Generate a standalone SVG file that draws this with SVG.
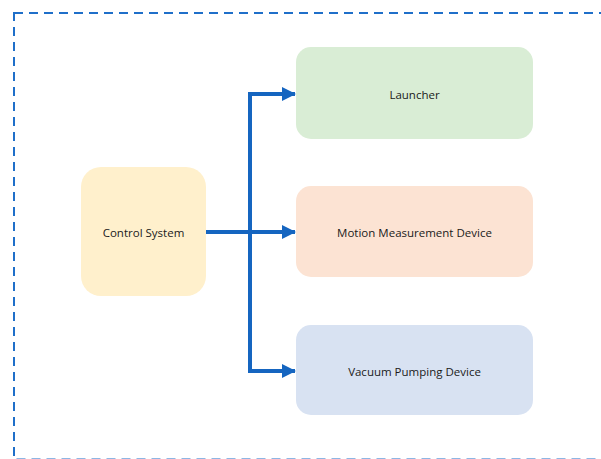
<svg xmlns="http://www.w3.org/2000/svg" width="601" height="459" viewBox="0 0 601 459">
  <style>
    .frame { fill: none; stroke: #1F6FC9; stroke-width: 2; stroke-dasharray: 9 6; }
    .box { stroke: none; }
    .label { font-family: "Open Sans", "Liberation Sans", sans-serif; font-size: 11.5px; fill: #1a1a1a; text-anchor: middle; dominant-baseline: central; }
    .wire { fill: none; stroke: #1565C0; stroke-width: 4; }
  </style>
  <defs>
    <marker id="arrow" markerWidth="14" markerHeight="14" refX="13" refY="7" orient="auto" markerUnits="userSpaceOnUse">
      <path d="M0,0 L14,7 L0,14 Z" fill="#1565C0"/>
    </marker>
  </defs>

  <!-- dashed system boundary, running off the right and bottom edges -->
  <rect class="frame" x="14" y="13" width="600" height="446.5"/>

  <g id="connectors">
    <line class="wire" x1="206" y1="232" x2="295" y2="232" marker-end="url(#arrow)"/>
    <line class="wire" x1="250" y1="92" x2="250" y2="373"/>
    <line class="wire" x1="248" y1="94" x2="295" y2="94" marker-end="url(#arrow)"/>
    <line class="wire" x1="248" y1="371" x2="295" y2="371" marker-end="url(#arrow)"/>
  </g>

  <g id="control-system">
    <rect class="box" x="81" y="167" width="125" height="129" rx="20" fill="#FFF0CC"/>
    <text class="label" x="143.5" y="232">Control System</text>
  </g>

  <g id="launcher">
    <rect class="box" x="296" y="47" width="237" height="92" rx="15" fill="#D9EDD5"/>
    <text class="label" x="414.5" y="94">Launcher</text>
  </g>

  <g id="motion-measurement-device">
    <rect class="box" x="296" y="186" width="237" height="91" rx="15" fill="#FCE3D3"/>
    <text class="label" x="414.5" y="232">Motion Measurement Device</text>
  </g>

  <g id="vacuum-pumping-device">
    <rect class="box" x="296" y="325" width="237" height="90" rx="15" fill="#D8E2F2"/>
    <text class="label" x="414.5" y="371">Vacuum Pumping Device</text>
  </g>
</svg>
